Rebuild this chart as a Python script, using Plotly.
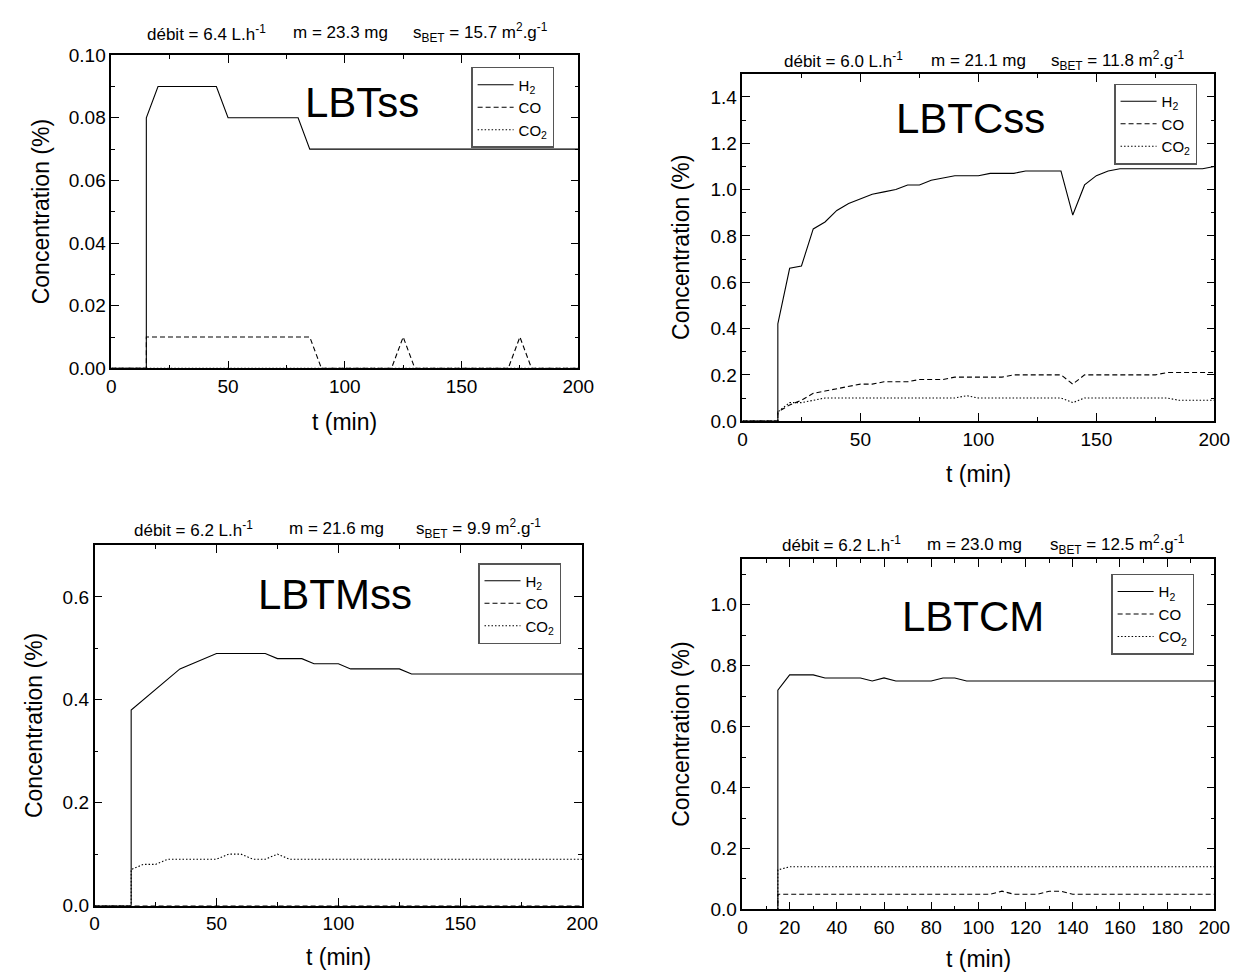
import plotly.graph_objects as go

W, H = 1242, 979
FONT = "Liberation Sans, Arial, sans-serif"

# ---------------- data (t in min, concentration in %) ----------------
# LBTss
lbtss_t_h2 = [0, 15, 15, 20, 45, 50, 80, 85, 200]
lbtss_h2 = [0, 0, 0.08, 0.09, 0.09, 0.08, 0.08, 0.07, 0.07]
lbtss_t_co = [0, 15, 15, 85, 90, 120, 125, 130, 170, 175, 180, 200]
lbtss_co = [0, 0, 0.01, 0.01, 0, 0, 0.01, 0, 0, 0.01, 0, 0]
lbtss_t_co2 = [0, 200]
lbtss_co2 = [0, 0]

# LBTCss
lbtcss_t_h2 = [0, 15, 15, 20, 25, 30, 35, 40, 45, 50, 55, 60, 65, 70, 75, 80, 85, 90,
               100, 105, 115, 120, 135, 140, 145, 150, 155, 160, 195, 200]
lbtcss_h2 = [0, 0, 0.42, 0.66, 0.67, 0.83, 0.86, 0.91, 0.94, 0.96, 0.98, 0.99, 1.00, 1.02,
             1.02, 1.04, 1.05, 1.06, 1.06, 1.07, 1.07, 1.08, 1.08, 0.89, 1.02, 1.06, 1.08,
             1.09, 1.09, 1.10]
lbtcss_t_co = [0, 15, 15, 20, 25, 30, 35, 40, 45, 50, 55, 60, 70, 75, 85, 90, 110, 115,
               135, 140, 145, 175, 180, 200]
lbtcss_co = [0, 0, 0.04, 0.07, 0.09, 0.12, 0.13, 0.14, 0.15, 0.16, 0.16, 0.17, 0.17, 0.18,
             0.18, 0.19, 0.19, 0.20, 0.20, 0.16, 0.20, 0.20, 0.21, 0.21]
lbtcss_t_co2 = [0, 15, 15, 20, 25, 30, 35, 90, 95, 100, 135, 140, 145, 180, 185, 200]
lbtcss_co2 = [0, 0, 0.04, 0.08, 0.08, 0.09, 0.10, 0.10, 0.11, 0.10, 0.10, 0.08, 0.10, 0.10,
              0.09, 0.09]

# LBTMss
lbtmss_t_h2 = [0, 15, 15, 35, 50, 70, 75, 85, 90, 100, 105, 125, 130, 200]
lbtmss_h2 = [0, 0, 0.38, 0.46, 0.49, 0.49, 0.48, 0.48, 0.47, 0.47, 0.46, 0.46, 0.45, 0.45]
lbtmss_t_co = [0, 200]
lbtmss_co = [0, 0]
lbtmss_t_co2 = [0, 15, 15, 20, 25, 30, 50, 55, 60, 65, 70, 75, 80, 200]
lbtmss_co2 = [0, 0, 0.07, 0.08, 0.08, 0.09, 0.09, 0.10, 0.10, 0.09, 0.09, 0.10, 0.09, 0.09]

# LBTCM
lbtcm_t_h2 = [0, 15, 15, 20, 30, 35, 50, 55, 60, 65, 80, 85, 90, 95, 200]
lbtcm_h2 = [0, 0, 0.72, 0.77, 0.77, 0.76, 0.76, 0.75, 0.76, 0.75, 0.75, 0.76, 0.76, 0.75, 0.75]
lbtcm_t_co = [0, 15, 15, 105, 110, 115, 125, 130, 135, 140, 200]
lbtcm_co = [0, 0, 0.05, 0.05, 0.06, 0.05, 0.05, 0.06, 0.06, 0.05, 0.05]
lbtcm_t_co2 = [0, 15, 15, 20, 200]
lbtcm_co2 = [0, 0, 0.13, 0.14, 0.14]

samples = ["LBTss", "LBTCss", "LBTMss", "LBTCM"]
flows = ["6.4", "6.0", "6.2", "6.2"]
masses = ["23.3", "21.1", "21.6", "23.0"]
sbets = ["15.7", "11.8", "9.9", "12.5"]
species = ["H<sub>2</sub>", "CO", "CO<sub>2</sub>"]

series = [
    [(lbtss_t_h2, lbtss_h2), (lbtss_t_co, lbtss_co), (lbtss_t_co2, lbtss_co2)],
    [(lbtcss_t_h2, lbtcss_h2), (lbtcss_t_co, lbtcss_co), (lbtcss_t_co2, lbtcss_co2)],
    [(lbtmss_t_h2, lbtmss_h2), (lbtmss_t_co, lbtmss_co), (lbtmss_t_co2, lbtmss_co2)],
    [(lbtcm_t_h2, lbtcm_h2), (lbtcm_t_co, lbtcm_co), (lbtcm_t_co2, lbtcm_co2)],
]

# ---------------- layout (pixel geometry) ----------------
panels = [
    dict(box=(100, 38, 575, 358), yr=[0, 0.10], ydt=0.02, ymn=0.01, yfmt=".2f", xdt=50, xmn=25,
         tx=(197, 333, 476), ty=15, lab=(355, 86), leg=(466, 50), ytx=28, xty=413),
    dict(box=(742, 57, 1222, 412), yr=[0, 1.5], ydt=0.2, ymn=0.1, yfmt=".1f", xdt=50, xmn=25,
         tx=(845, 982, 1124), ty=43, lab=(974, 103), leg=(1120, 67), ytx=680, xty=466),
    dict(box=(83, 539, 579, 907), yr=[0, 0.7], ydt=0.2, ymn=0.1, yfmt=".1f", xdt=50, xmn=25,
         tx=(184, 329, 473), ty=522, lab=(328, 589), leg=(473, 557), ytx=22, xty=960),
    dict(box=(742, 553, 1222, 911), yr=[0, 1.15], ydt=0.2, ymn=0.1, yfmt=".1f", xdt=20, xmn=10,
         tx=(843, 978, 1124), ty=538, lab=(977, 612), leg=(1117, 568), ytx=680, xty=962),
]
dashes = ["solid", "5px,3px", "1.5px,2px"]


def px(x):
    return x / W


def py(y):
    return 1 - y / H


fig = go.Figure()
annotations = []
layout = dict(
    width=W, height=H, margin=dict(l=0, r=0, t=0, b=0),
    paper_bgcolor="white", plot_bgcolor="white",
    font=dict(family=FONT, color="black", size=19),
)

for i, p in enumerate(panels):
    n = "" if i == 0 else str(i + 1)
    legkey = "legend" if i == 0 else f"legend{i + 1}"
    x0, y0, x1, y1 = p["box"]
    axis_common = dict(
        showline=True, linecolor="black", linewidth=1.5, mirror="allticks",
        ticks="inside", ticklen=8, tickwidth=1.2, tickcolor="black",
        showgrid=False, zeroline=False, fixedrange=True,
        tickfont=dict(family=FONT, size=19, color="black"),
    )
    layout[f"xaxis{n}"] = dict(
        axis_common, domain=[px(x0), px(x1)], anchor=f"y{n}", range=[0, 200],
        tick0=0, dtick=p["xdt"],
        minor=dict(ticks="inside", ticklen=4, tickwidth=1.2, tickcolor="black", dtick=p["xmn"], tick0=0),
    )
    layout[f"yaxis{n}"] = dict(
        axis_common, domain=[py(y1), py(y0)], anchor=f"x{n}", range=p["yr"],
        tick0=0, dtick=p["ydt"], tickformat=p["yfmt"],
        minor=dict(ticks="inside", ticklen=4, tickwidth=1.2, tickcolor="black", dtick=p["ymn"], tick0=0),
    )
    for k, (tt, vv) in enumerate(series[i]):
        fig.add_trace(go.Scatter(
            x=tt, y=vv, mode="lines", name=species[k],
            line=dict(color="black", width=1.1, dash=dashes[k]),
            xaxis=f"x{n}", yaxis=f"y{n}", legend=legkey, showlegend=True,
        ))
    layout[legkey] = dict(
        x=px(p["leg"][0]), y=py(p["leg"][1]), xanchor="left", yanchor="top",
        bgcolor="white", bordercolor="#555555", borderwidth=1.5,
        font=dict(family=FONT, size=15, color="black"), itemwidth=36,
        tracegroupgap=0,
    )
    # header texts
    texts = [f"débit = {flows[i]} L.h<sup>-1</sup>", f"m = {masses[i]} mg",
             f"s<sub>BET</sub> = {sbets[i]} m<sup>2</sup>.g<sup>-1</sup>"]
    for tx, t in zip(p["tx"], texts):
        annotations.append(dict(x=px(tx), y=py(p["ty"]), xref="paper", yref="paper",
                                text=t, showarrow=False, xanchor="center", yanchor="middle",
                                font=dict(family=FONT, size=17, color="black")))
    annotations.append(dict(x=px(p["lab"][0]), y=py(p["lab"][1]), xref="paper", yref="paper",
                            text=samples[i], showarrow=False, xanchor="center", yanchor="middle",
                            font=dict(family=FONT, size=42, color="black")))
    annotations.append(dict(x=px(p["ytx"]), y=py((y0 + y1) / 2), xref="paper", yref="paper",
                            text="Concentration (%)", textangle=-90, showarrow=False,
                            xanchor="center", yanchor="middle",
                            font=dict(family=FONT, size=23, color="black")))
    annotations.append(dict(x=px((x0 + x1) / 2), y=py(p["xty"]), xref="paper", yref="paper",
                            text="t (min)", showarrow=False, xanchor="center", yanchor="middle",
                            font=dict(family=FONT, size=23, color="black")))

layout["annotations"] = annotations
fig.update_layout(**layout)
fig.write_html("out.html")
